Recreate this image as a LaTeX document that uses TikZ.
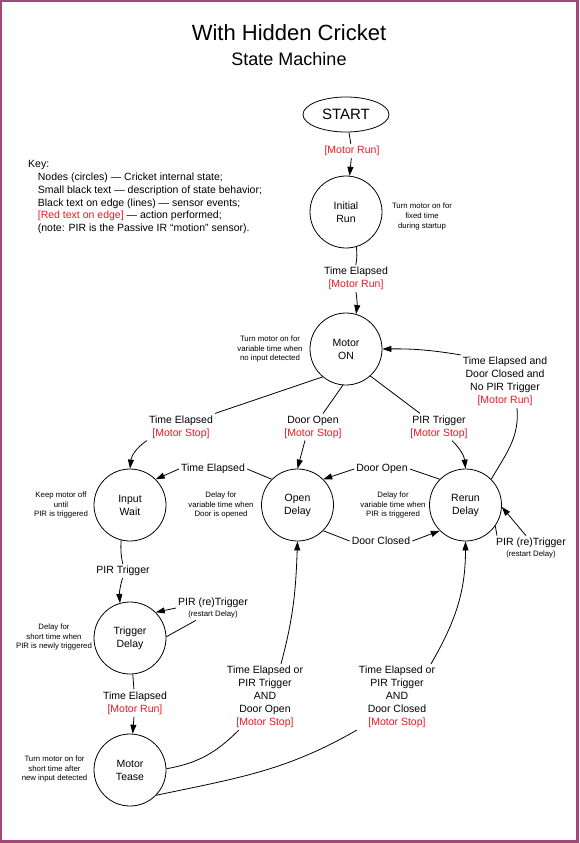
\documentclass[tikz,border=0pt]{standalone}
\usepackage{fontspec}
\setmainfont{Liberation Sans}
\usetikzlibrary{shapes.geometric,arrows.meta}
\definecolor{framecol}{RGB}{165,70,120}
\definecolor{actred}{RGB}{235,25,35}
\newcommand\redact[1]{\textcolor{actred}{#1}}
\newcommand\notefont{\fontsize{7.8}{9.7}\selectfont}

\begin{document}
\begin{tikzpicture}[x=1pt,y=1pt,
  state/.style={circle,draw,line width=0.8pt,minimum size=72pt,inner sep=0pt,align=center,font=\fontsize{10.5}{13}\selectfont},
  lbl/.style={fill=white,align=center,inner sep=2pt,font=\fontsize{10.5}{13}\selectfont},
  note/.style={align=center,inner sep=0pt,font=\notefont},
  edge/.style={line width=0.8pt},
  arr/.style={edge,-{Triangle[length=9pt,width=6pt]}}]

\useasboundingbox (0,0) rectangle (579,-843);
\draw[framecol,line width=2.4pt] (1.2,-1.2) rectangle (577.6,-841.6);

\node[font=\fontsize{22}{26}\selectfont] (title) at (289,-33) {With Hidden Cricket};
\node[font=\fontsize{18}{22}\selectfont] (subtitle) at (289,-59) {State Machine};

\node[anchor=north west,align=left,inner sep=0pt,font=\fontsize{10.5}{12.7}\selectfont] (key) at (28,-160.5) {Key:\\
\hspace*{9.7pt}Nodes (circles) — Cricket internal state;\\
\hspace*{9.7pt}Small black text — description of state behavior;\\
\hspace*{9.7pt}Black text on edge (lines) — sensor events;\\
\hspace*{9.7pt}\redact{[Red text on edge]} — action performed;\\
\hspace*{9.7pt}(note: PIR is the Passive IR “motion” sensor).};


\node[draw,ellipse,line width=0.8pt,minimum width=86pt,minimum height=35pt,font=\fontsize{15}{18}\selectfont] (start) at (346,-114.5) {START};
\node[state] (init) at (346,-212) {Initial\\Run};
\node[state] (mon) at (346,-349) {Motor\\ON};
\node[state] (wait) at (130,-505) {Input\\Wait};
\node[state] (open) at (297.5,-505) {Open\\Delay};
\node[state] (rerun) at (465.5,-505) {Rerun\\Delay};
\node[state] (trig) at (130,-638) {Trigger\\Delay};
\node[state] (tease) at (130,-770) {Motor\\Tease};


\node[note] (dinit) at (422,-216.5) {Turn motor on for\\fixed time\\during startup};
\node[note] (dmon) at (270,-349) {Turn motor on for\\variable time when\\no input detected};
\node[note] (dwait) at (61,-505) {Keep motor off\\until\\PIR is triggered};
\node[note] (dopen) at (221,-505) {Delay for\\variable time when\\Door is opened};
\node[note] (drerun) at (393,-505) {Delay for\\variable time when\\PIR is triggered};
\node[note] (dtrig) at (54,-637) {Delay for\\short time when\\PIR is newly triggered};
\node[note] (dtease) at (54.5,-769) {Turn motor on for\\short time after\\new input detected};


\node[lbl] (l0) at (352,-151) {\redact{[Motor Run]}};
\node[lbl] (l1) at (356,-278.5) {Time Elapsed\\\redact{[Motor Run]}};
\node[lbl] (l2) at (181,-427) {Time Elapsed\\\redact{[Motor Stop]}};
\node[lbl] (l3) at (313,-427) {Door Open\\\redact{[Motor Stop]}};
\node[lbl] (l4) at (439,-427) {PIR Trigger\\\redact{[Motor Stop]}};
\node[lbl] (l5) at (505,-381.5) {Time Elapsed and\\Door Closed and\\No PIR Trigger\\\redact{[Motor Run]}};
\node[lbl] (l6) at (213,-469) {Time Elapsed};
\node[lbl] (l7) at (382,-469) {Door Open};
\node[lbl] (l8) at (381,-541) {Door Closed};
\node[lbl] (l9) at (531,-548) {PIR (re)Trigger\\[-2pt]{\notefont (restart Delay)}};
\node[lbl] (l10) at (123,-571) {PIR Trigger};
\node[lbl] (l11) at (213,-608) {PIR (re)Trigger\\[-2pt]{\notefont (restart Delay)}};
\node[lbl] (l12) at (135,-703) {Time Elapsed\\\redact{[Motor Run]}};
\node[lbl] (l13) at (265,-697) {Time Elapsed or\\PIR Trigger\\AND\\Door Open\\\redact{[Motor Stop]}};
\node[lbl] (l14) at (397,-697) {Time Elapsed or\\PIR Trigger\\AND\\Door Closed\\\redact{[Motor Stop]}};


\draw[edge] (start) -- (l0);
\draw[arr] (l0) -- (init);
\draw[edge] (init) to[bend left=8] (l1);
\draw[arr] (l1) to[bend left=8] (mon);

\draw[edge] (mon.230) -- (l2.north east);
\draw[arr] (l2.south west) to[bend right=25] (wait.north);
\draw[edge] (mon.265) -- ([xshift=10pt]l3.north);
\draw[arr] ([xshift=-8pt]l3.south) -- (open.north);
\draw[edge] (mon.-48) -- ([xshift=-19pt]l4.north);
\draw[arr] ([xshift=13pt]l4.south) to[bend left=20] (rerun.north);
\draw[edge] (rerun.45) to[out=60,in=-85] ([xshift=12pt]l5.south);
\draw[arr] (l5.north west) to[bend right=5] (mon.east);

\draw[edge] (open.135) -- (l6.east);
\draw[arr] (l6.west) -- (wait.45);
\draw[edge] (rerun.135) -- (l7.east);
\draw[arr] (l7.west) -- (open.45);
\draw[edge] (open.-45) -- (l8.west);
\draw[arr] (l8.east) -- (rerun.-135);
\draw[edge] (rerun.-35) -- ([xshift=3pt]l9.north west);
\draw[arr] ([xshift=-5pt]l9.north) -- (rerun.-3);

\draw[edge] (wait) to[bend right=8] (l10);
\draw[arr] (l10) to[bend right=10] (trig);
\draw[edge] (trig.2) -- ([xshift=20pt]l11.south west);
\draw[arr] (l11.west) -- (trig.45);
\draw[edge] (trig) -- (l12);
\draw[arr] (l12) -- (tease);

\draw[edge] (tease.2) to[out=10,in=-135] ([xshift=14pt]l13.south west);
\draw[arr] ([xshift=16pt]l13.north) to[out=75,in=-92] (open.south);
\draw[edge] (tease.-44) to[out=12,in=-150] (l14.south west);
\draw[arr] ([xshift=34pt]l14.north) to[out=60,in=-90] (rerun.south);
\end{tikzpicture}
\end{document}
